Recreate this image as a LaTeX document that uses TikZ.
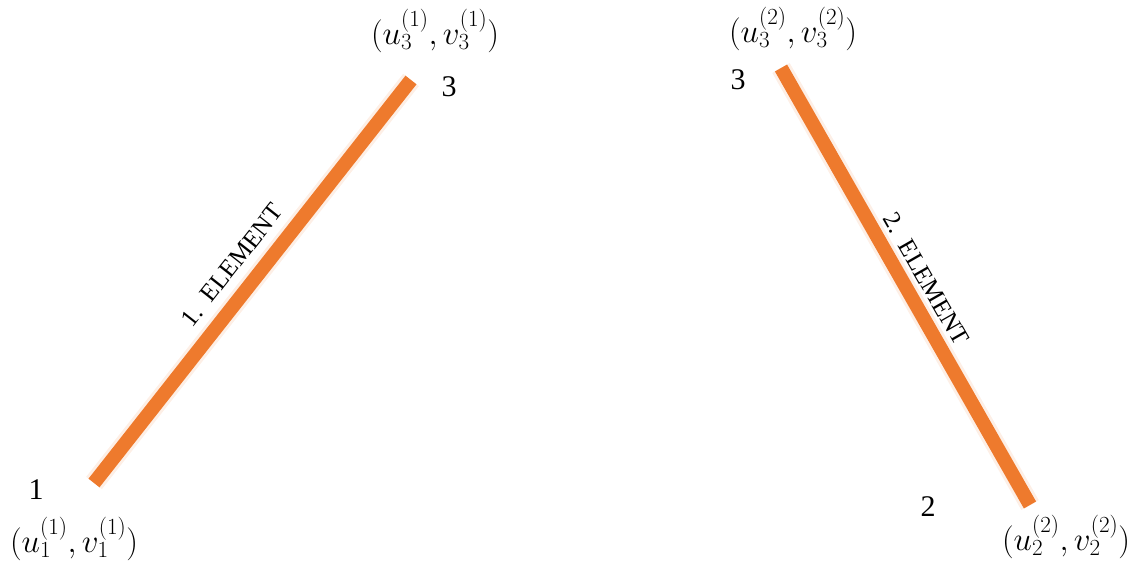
\RequirePackage{fix-cm}
\documentclass[tikz,border=0pt]{standalone}
\usepackage{fontspec}
\setmainfont{Liberation Serif}
\definecolor{barorange}{RGB}{238,122,45}
\begin{document}
\begin{tikzpicture}[x=1pt,y=-1pt,
  bar/.style={line width=14pt, draw=barorange},
  barshadow/.style={line width=20pt, draw=barorange!12},
  numlabel/.style={font=\fontsize{30}{30}\selectfont, inner sep=0pt},
  coordlabel/.style={font=\fontsize{33}{33}\selectfont, inner sep=0pt},
  elemlabel/.style={font=\fontsize{25}{25}\selectfont, inner sep=0pt}]
\useasboundingbox (0,0) rectangle (1136,561);
% end points
\coordinate (p1) at (94,483);
\coordinate (p3a) at (411,80);
\coordinate (p3b) at (781,68);
\coordinate (p2) at (1030,505);
% bars
\draw[barshadow] (p1) -- (p3a);
\draw[barshadow] (p3b) -- (p2);
\draw[bar] (p1) -- (p3a);
\draw[bar] (p3b) -- (p2);
% element labels
\node[elemlabel, rotate=51.8] (e1) at (232,265) {1.\ \ ELEMENT};
\node[elemlabel, rotate=-60.3] (e2) at (926,279) {2.\ \ ELEMENT};
% node numbers
\node[numlabel] (n3a) at (449,87) {3};
\node[numlabel] (n3b) at (738,80) {3};
\node[numlabel] (n1) at (36,490) {1};
\node[numlabel] (n2) at (928,507) {2};
% coordinates
\node[coordlabel] (c3a) at (435,31) {$(u_3^{(1)},v_3^{(1)})$};
\node[coordlabel] (c3b) at (793,29) {$(u_3^{(2)},v_3^{(2)})$};
\node[coordlabel] (c1) at (74,539) {$(u_1^{(1)},v_1^{(1)})$};
\node[coordlabel] (c2) at (1066,537) {$(u_2^{(2)},v_2^{(2)})$};
\end{tikzpicture}
\end{document}
